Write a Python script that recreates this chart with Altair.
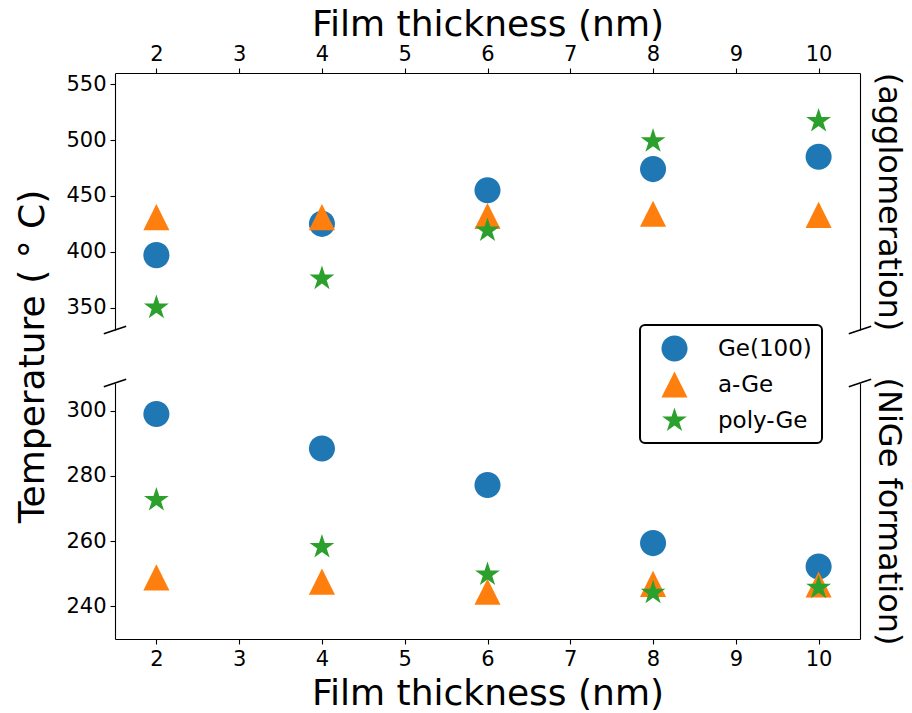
import altair as alt
import pandas as pd

# Film thickness (nm) for every sample
thickness = [2, 4, 6, 8, 10]
samples = ["Ge(100)", "a-Ge", "poly-Ge"]
sample_colors = ["#1f77b4", "#ff7f0e", "#2ca02c"]

# Agglomeration temperatures (degC), upper panel
agg_ge100 = [397, 425, 455, 474, 485]
agg_age = [431, 431, 432, 434, 433]
agg_poly = [350, 376, 419, 499, 517]

# NiGe formation temperatures (degC), lower panel
form_ge100 = [299, 288.4, 277.2, 259.4, 252.2]
form_age = [248.9, 247.6, 244.5, 246.9, 246.7]
form_poly = [272.6, 258.2, 249.8, 244.2, 245.7]

x_domain = [1.5, 10.5]
top_domain = [330, 560]
bottom_domain = [230, 308.5]
x_ticks = list(range(2, 11))

# marker outlines in the [-1, 1] box (circle, triangle, five-point star)
circle_path = "M1,0A1,1,0,1,1,-1,0A1,1,0,1,1,1,0Z"
triangle_path = "M0,-1L1,1L-1,1Z"
star_path = ("M0,-1L0.2245,-0.309L0.9511,-0.309L0.3633,0.118L0.5878,0.809L0,0.382"
             "L-0.5878,0.809L-0.3633,0.118L-0.9511,-0.309L-0.2245,-0.309Z")

FONT = "DejaVu Sans"
MARKER_SIZE = 680
TITLE_SIZE = 36
SIDE_TITLE_SIZE = 32


def long_table(series_list):
    rows = []
    for name, values in zip(samples, series_list):
        for t, v in zip(thickness, values):
            rows.append({"thickness": t, "temperature": v, "sample": name})
    return pd.DataFrame(rows)


top_df = long_table([agg_ge100, agg_age, agg_poly])
bottom_df = long_table([form_ge100, form_age, form_poly])

color_scale = alt.Scale(domain=samples, range=sample_colors)
shape_scale = alt.Scale(domain=samples, range=[circle_path, triangle_path, star_path])

legend = alt.Legend(
    title=None,
    orient="none",
    legendX=525,
    legendY=252,
    strokeColor="black",
    cornerRadius=5,
    fillColor="white",
    padding=10,
    symbolOffset=11,
    labelOffset=30,
    rowPadding=9,
    labelFont=FONT,
    labelFontSize=23,
    labelColor="black",
    symbolSize=MARKER_SIZE,
    symbolStrokeWidth=0,
)


def panel(df, y_domain, height, x_orient, x_title_pad, break_at, left_title, left_title_y,
          right_title):
    x_scale = alt.Scale(domain=x_domain, nice=False, zero=False)
    y_scale = alt.Scale(domain=y_domain, nice=False, zero=False)
    x_axis = alt.Axis(orient=x_orient, values=x_ticks, title="Film thickness (nm)",
                      titlePadding=x_title_pad)

    y_axis_kwargs = dict(orient="left", values=list(range(0, 601, 50 if y_domain[0] > 320 else 20)),
                         titlePadding=14)
    if left_title is None:
        y_axis = alt.Axis(title=None, **y_axis_kwargs)
    else:
        y_axis = alt.Axis(title=left_title, titleY=left_title_y, **y_axis_kwargs)

    points = alt.Chart(df).mark_point(filled=True, opacity=1, size=MARKER_SIZE).encode(
        x=alt.X("thickness:Q", scale=x_scale, axis=x_axis),
        y=alt.Y("temperature:Q", scale=y_scale, axis=y_axis),
        color=alt.Color("sample:N", scale=color_scale, legend=legend),
        shape=alt.Shape("sample:N", scale=shape_scale, legend=legend),
    )

    # diagonal break marks at the cut edge of the panel; this layer also
    # carries the right-hand spine and its side label
    d = 0.015
    dx = d * (x_domain[1] - x_domain[0])
    dy = d * (y_domain[1] - y_domain[0])
    breaks_df = pd.DataFrame({
        "x0": [x_domain[0] - dx, x_domain[1] - dx],
        "x1": [x_domain[0] + dx, x_domain[1] + dx],
        "y0": [break_at - dy, break_at - dy],
        "y1": [break_at + dy, break_at + dy],
    })
    breaks = alt.Chart(breaks_df).mark_rule(color="black", strokeWidth=1.6).encode(
        x=alt.X("x0:Q", scale=x_scale, axis=x_axis),
        x2="x1:Q",
        y=alt.Y("y0:Q", scale=y_scale,
                axis=alt.Axis(orient="right", title=right_title, labels=False, ticks=False,
                              domain=True, titleAngle=90, titlePadding=11,
                              titleFontSize=SIDE_TITLE_SIZE)),
        y2="y1:Q",
    )

    return alt.layer(points, breaks).resolve_scale(y="independent").properties(
        width=745, height=height)


top = panel(top_df, top_domain, 257, "top", 0, top_domain[0], None, None, "(agglomeration)")
bottom = panel(bottom_df, bottom_domain, 256, "bottom", 7, bottom_domain[1],
               "Temperature ( ° C)", -27, "(NiGe formation)")

chart = alt.vconcat(top, bottom, spacing=53, bounds="flush").properties(
    padding={"left": 14, "top": 6, "right": 5, "bottom": 5},
).configure_view(stroke=None).configure_legend(
    strokeWidth=2,
).configure_axis(
    labelFont=FONT,
    labelFontSize=21,
    labelColor="black",
    labelPadding=4,
    titleFont=FONT,
    titleFontSize=TITLE_SIZE,
    titleFontWeight="normal",
    titleColor="black",
    domainColor="black",
    domainWidth=1.1,
    tickColor="black",
    tickWidth=1.1,
    tickSize=5,
    grid=False,
)

chart.save("out.html", embed_options={"renderer": "svg", "actions": False})
